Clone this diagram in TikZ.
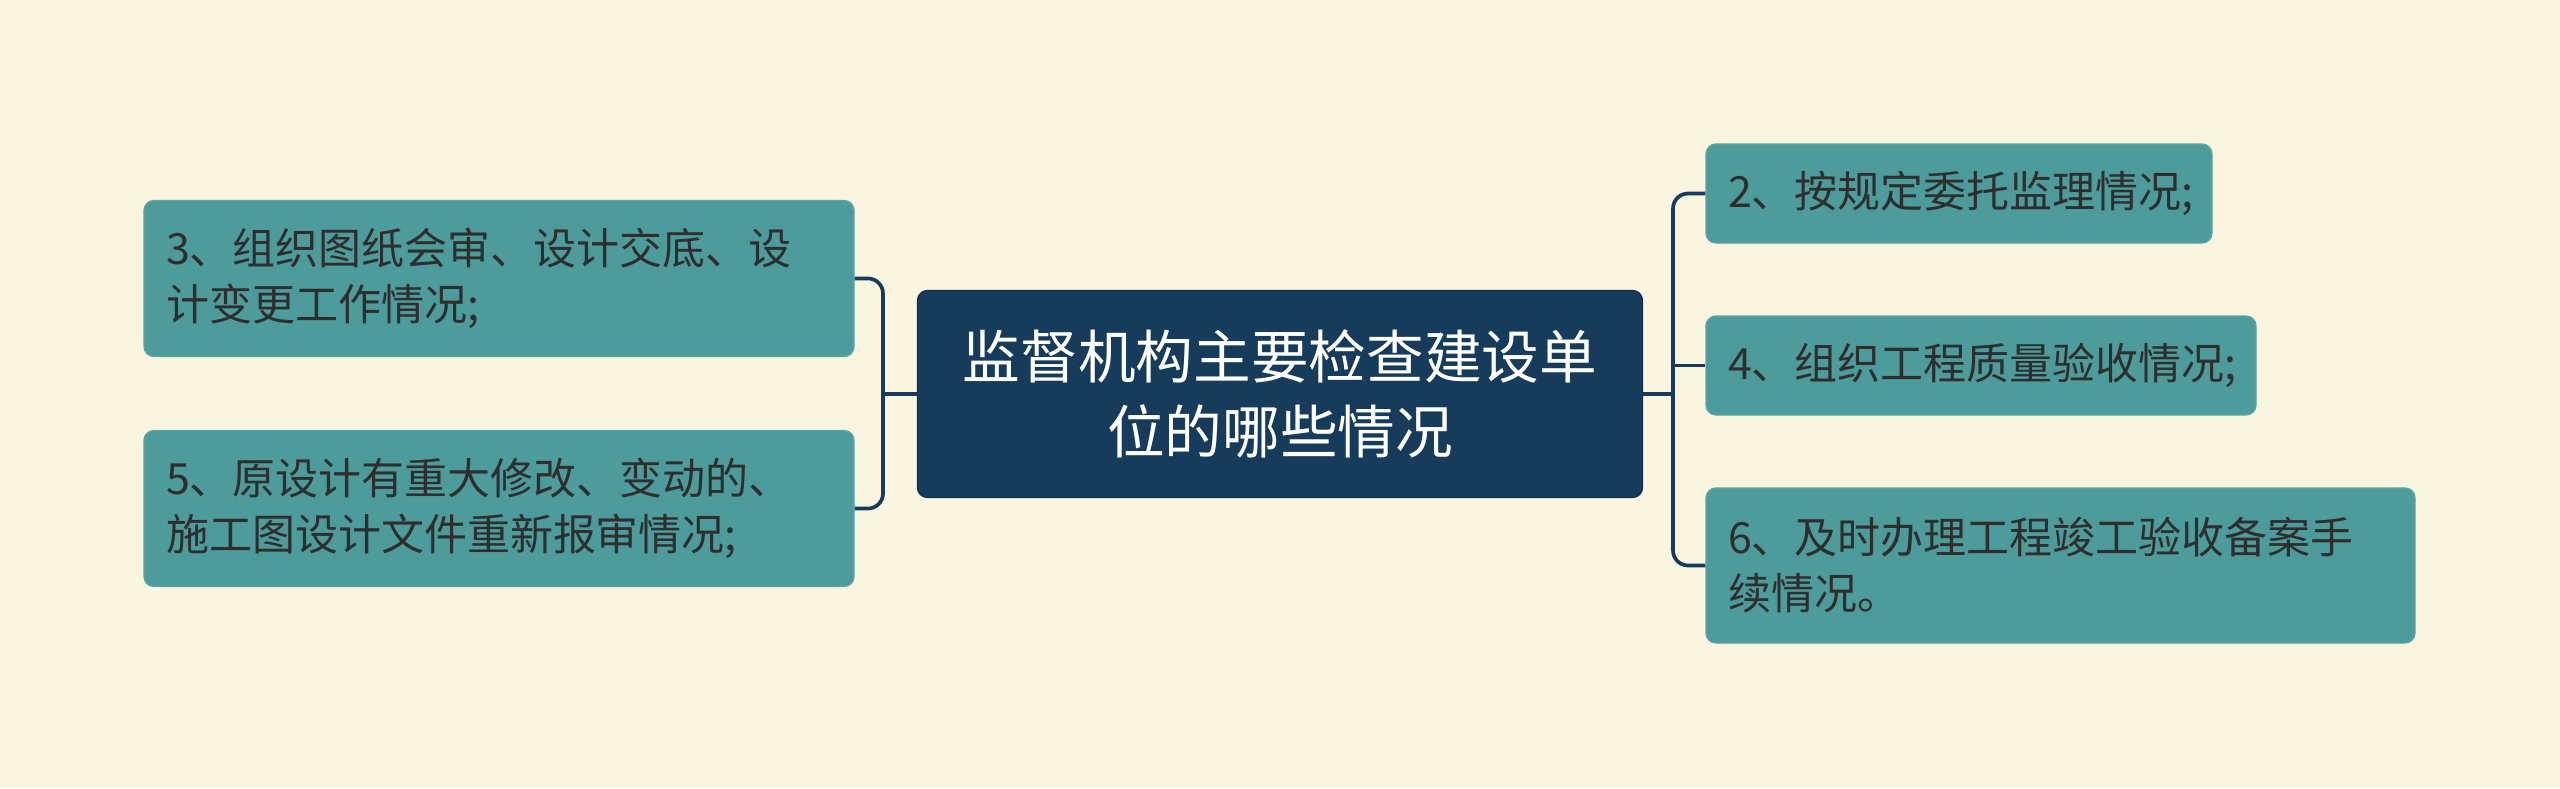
\documentclass[tikz,border=0pt]{standalone}
\usepackage{fontspec}
\newfontfamily\cjk{Noto Sans CJK SC}
\definecolor{bgc}{HTML}{FAF5E1}
\definecolor{teal1}{HTML}{4D9C9B}
\definecolor{tealb}{HTML}{5AA6A4}
\definecolor{navy}{HTML}{173C5B}
\definecolor{txt}{HTML}{2E2E2E}
\tikzset{
  child/.style={draw=tealb, line width=0.4pt, fill=teal1, rounded corners=3pt,
    text=txt, align=left, inner xsep=6.6pt, inner ysep=0pt, anchor=center,
    font=\cjk\fontsize{12.9}{16.8}\selectfont},
  root/.style={draw=navy!80!black, line width=0.4pt, fill=navy, rounded corners=3pt,
    text=white, align=center, inner sep=0pt, anchor=center,
    minimum width=217.5pt, minimum height=62.1pt,
    font=\cjk\fontsize{17.3}{22.5}\selectfont},
  conn/.style={draw=navy, line width=1.1pt, rounded corners=4.5pt}
}
\begin{document}
\begin{tikzpicture}[x=0.3pt,y=-0.3pt]
\fill[bgc] (0,0) rectangle (2560,788);
\useasboundingbox (0,0) rectangle (2560,788);
\node[root] (c) at (1280,394) {监督机构主要检查建设单\\位的哪些情况};
\node[child, text width=199.8pt, minimum width=213pt, minimum height=46.8pt] (l1) at (499,278.5) {3、组织图纸会审、设计交底、设\\计变更工作情况;};
\node[child, text width=199.8pt, minimum width=213pt, minimum height=46.8pt] (l2) at (499,508.5) {5、原设计有重大修改、变动的、\\施工图设计文件重新报审情况;};
\node[child, text width=138.6pt, minimum width=151.8pt, minimum height=29.7pt] (r2) at (1959,193.5) {2、按规定委托监理情况;};
\node[child, text width=151.8pt, minimum width=165pt, minimum height=29.7pt] (r4) at (1981,365.5) {4、组织工程质量验收情况;};
\node[child, text width=199.5pt, minimum width=212.7pt, minimum height=46.5pt] (r6) at (2060.5,565.5) {6、及时办理工程竣工验收备案手\\续情况。};
\coordinate (lj) at (883,394);
\coordinate (rj) at (1673,394);
\draw[conn] (c.west) -- (lj);
\draw[conn] (l1.east) -- (lj |- l1.east) -- (lj |- l2.east) -- (l2.east);
\draw[conn] (c.east) -- (rj);
\draw[conn] (r2.west) -- (rj |- r2.west) -- (rj |- r6.west) -- (r6.west);
\draw[conn] (rj |- r4.west) -- (r4.west);
\end{tikzpicture}
\end{document}
